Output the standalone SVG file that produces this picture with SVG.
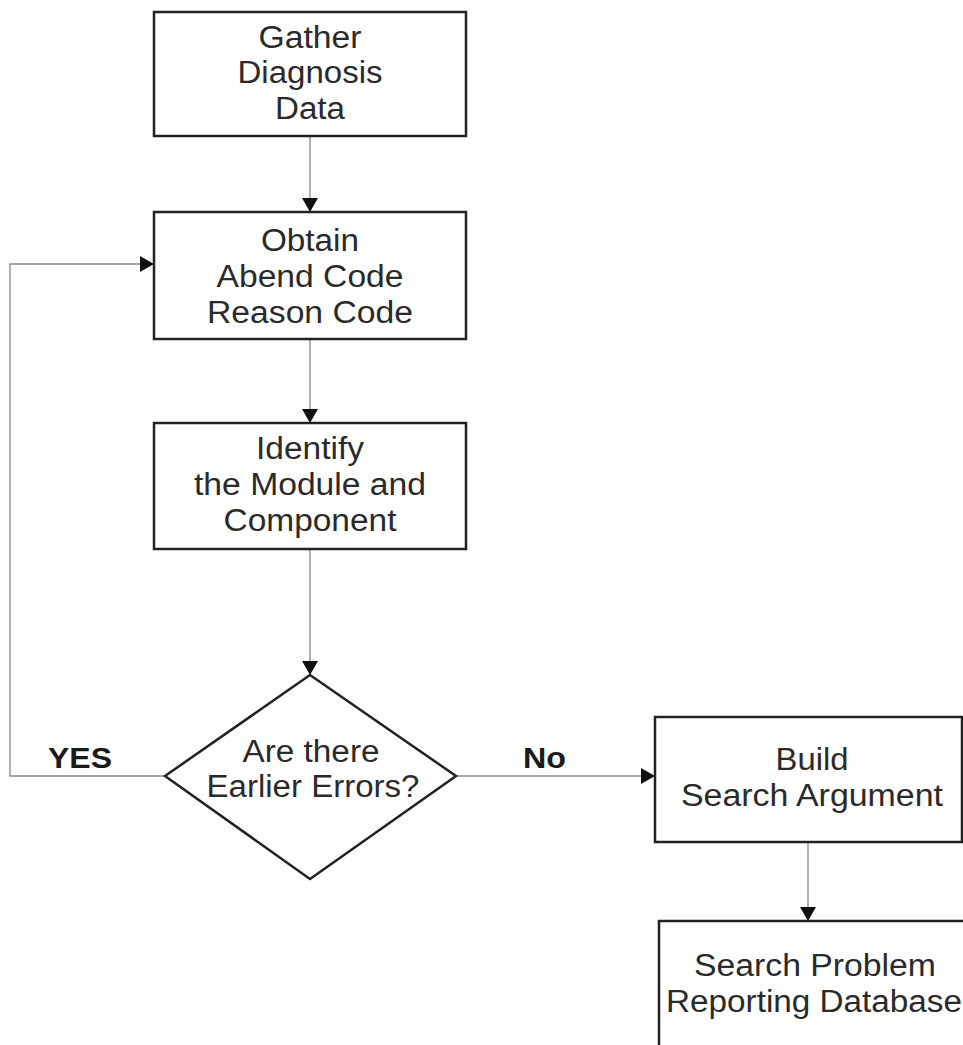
<svg xmlns="http://www.w3.org/2000/svg" width="963" height="1045" viewBox="0 0 963 1045">
<style>
.box{fill:#fff;stroke:#222;stroke-width:2.5}
.t{font-family:"Liberation Sans",Arial,sans-serif;font-size:31px;fill:#2a2a2a;text-anchor:middle}
.lbl{font-family:"Liberation Sans",Arial,sans-serif;font-size:29px;font-weight:bold;fill:#1a1a1a}
.c{fill:none;stroke:#888;stroke-width:1.3}
</style>
<defs>
<marker id="ah" viewBox="0 0 14 16" refX="14" refY="8" markerWidth="14" markerHeight="16" markerUnits="userSpaceOnUse" orient="auto">
<path d="M0,0 L14,8 L0,16 Z" fill="#111"/>
</marker>
</defs>
<rect width="963" height="1045" fill="#fff"/>
<g id="connectors">
<line class="c" x1="310" y1="136" x2="310" y2="212" marker-end="url(#ah)"/>
<line class="c" x1="310" y1="339" x2="310" y2="423" marker-end="url(#ah)"/>
<line class="c" x1="310" y1="549" x2="310" y2="675" marker-end="url(#ah)"/>
<polyline class="c" points="165,776 10,776 10,264 154,264" marker-end="url(#ah)"/>
<line class="c" x1="456" y1="776" x2="655" y2="776" marker-end="url(#ah)"/>
<line class="c" x1="808" y1="842" x2="808" y2="921" marker-end="url(#ah)"/>
<text class="lbl" x="48" y="768" textLength="64" lengthAdjust="spacingAndGlyphs">YES</text>
<text class="lbl" x="523" y="768" textLength="43" lengthAdjust="spacingAndGlyphs">No</text>
</g>
<g id="gather">
<rect class="box" x="154" y="12" width="312" height="124"/>
<text class="t" x="310" y="48" textLength="103" lengthAdjust="spacingAndGlyphs">Gather</text>
<text class="t" x="310" y="83" textLength="145" lengthAdjust="spacingAndGlyphs">Diagnosis</text>
<text class="t" x="310" y="119" textLength="70" lengthAdjust="spacingAndGlyphs">Data</text>
</g>
<g id="obtain">
<rect class="box" x="154" y="212" width="312" height="127"/>
<text class="t" x="310" y="251" textLength="98" lengthAdjust="spacingAndGlyphs">Obtain</text>
<text class="t" x="310" y="287" textLength="187" lengthAdjust="spacingAndGlyphs">Abend Code</text>
<text class="t" x="310" y="323" textLength="206" lengthAdjust="spacingAndGlyphs">Reason Code</text>
</g>
<g id="identify">
<rect class="box" x="154" y="423" width="312" height="126"/>
<text class="t" x="310" y="459" textLength="108" lengthAdjust="spacingAndGlyphs">Identify</text>
<text class="t" x="310" y="495" textLength="232" lengthAdjust="spacingAndGlyphs">the Module and</text>
<text class="t" x="310" y="531" textLength="173" lengthAdjust="spacingAndGlyphs">Component</text>
</g>
<g id="decision">
<polygon class="box" points="310,675 456,776 310,879 165,776"/>
<text class="t" x="311" y="762" textLength="137" lengthAdjust="spacingAndGlyphs">Are there</text>
<text class="t" x="313" y="797" textLength="213" lengthAdjust="spacingAndGlyphs">Earlier Errors?</text>
</g>
<g id="build">
<rect class="box" x="655" y="717" width="307" height="125"/>
<text class="t" x="812" y="770" textLength="73" lengthAdjust="spacingAndGlyphs">Build</text>
<text class="t" x="812" y="806" textLength="262" lengthAdjust="spacingAndGlyphs">Search Argument</text>
</g>
<g id="search">
<rect class="box" x="659" y="921" width="320" height="140"/>
<text class="t" x="815" y="976" textLength="242" lengthAdjust="spacingAndGlyphs">Search Problem</text>
<text class="t" x="814" y="1012" textLength="296" lengthAdjust="spacingAndGlyphs">Reporting Database</text>
</g>
</svg>
